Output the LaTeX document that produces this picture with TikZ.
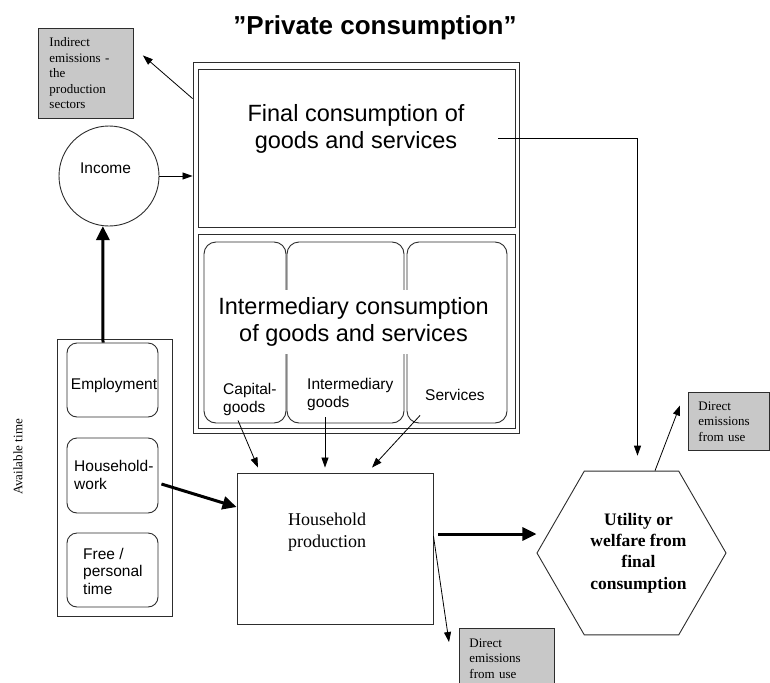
\documentclass[tikz,border=0pt]{standalone}
\usepackage{fontspec}
\setmainfont{Liberation Serif}
\setsansfont{Liberation Sans}
\usetikzlibrary{arrows.meta,shapes.geometric}
\definecolor{ln}{RGB}{45,45,45}
\definecolor{greyfill}{RGB}{200,200,200}
\newcommand\fsz[2]{\fontsize{#1}{#2}\selectfont}
\begin{document}
\begin{tikzpicture}[x=1pt,y=-1pt,
  box/.style={draw=ln, line width=0.9pt, rectangle, inner sep=0pt},
  rbox/.style={box, rounded corners=12pt},
  greybox/.style={draw=ln, line width=0.9pt, fill=greyfill, align=left, font=\fsz{13}{15.5}, inner xsep=11pt, inner ysep=0pt, anchor=north west},
  sans/.style={font=\sffamily\fsz{15.5}{17.5}, inner sep=0pt, align=left},
  bigsans/.style={font=\sffamily\fsz{23.5}{27}, align=center, inner sep=0pt},
  arr/.style={draw=black, line width=0.8pt, -{Triangle[length=10pt,width=7pt]}},
  thickarr/.style={draw=black, line width=3pt, -{Triangle[length=14pt,width=13pt]}},
]
\clip (0,0) rectangle (770,682);
\fill[white] (0,0) rectangle (770,682);

% title
\node[font=\sffamily\bfseries\fsz{26}{30}, anchor=base, inner sep=0pt] (title) at (375,35) {”Private consumption”};

% central frame
\node[box, minimum width=326pt, minimum height=371pt] (frame) at (356,247.5) {};
\node[box, minimum width=317pt, minimum height=158pt] (fc) at (356.5,148) {};
\node[box, minimum width=317pt, minimum height=194pt] (ic) at (356.5,331) {};
\node[bigsans] (fctext) at (356,128.8) {Final consumption of\\goods and services};

\node[rbox, minimum width=82pt, minimum height=181pt] (ib1) at (245,332.5) {};
\node[rbox, minimum width=117pt, minimum height=181pt] (ib2) at (345.5,332.5) {};
\node[rbox, minimum width=100pt, minimum height=181pt] (ib3) at (457,332.5) {};
\node[bigsans, fill=white, inner xsep=2pt, inner ysep=8pt] (ictext) at (353.5,322) {Intermediary consumption\\of goods and services};
\node[sans, anchor=west] (capl) at (223,399.5) {Capital-\\goods};
\node[sans, anchor=west] (intl) at (307,394.5) {Intermediary\\goods};
\node[sans, anchor=west] (servl) at (425,394.5) {Services};

% left column
\node[box, minimum width=115pt, minimum height=277pt] (avail) at (114.5,477.5) {};
\node[rbox, rounded corners=10pt, minimum width=91pt, minimum height=74pt] (emp) at (112.5,380) {};
\node[rbox, rounded corners=10pt, minimum width=91pt, minimum height=75pt] (hw) at (112.5,475.5) {};
\node[rbox, rounded corners=10pt, minimum width=91pt, minimum height=74pt] (free) at (112.5,570) {};
\node[sans] (emplabel) at (114,385.5) {Employment};
\node[sans, anchor=west] (hwlabel) at (74,475) {Household-\\work};
\node[sans, anchor=west] (freelabel) at (83,571) {Free /\\personal\\time};
\node[rotate=90, font=\fsz{13}{15}, inner sep=0pt] (availlabel) at (18,457) {Available time};

% income
\node[box, circle, minimum size=100pt] (income) at (109,176) {};
\node[sans] (incomelabel) at (105.5,168.5) {Income};

% grey boxes
\node[greybox, text width=73pt, minimum height=90pt] (g1) at (38,28) {Indirect\\emissions -\\the\\production\\sectors};
\node[greybox, inner xsep=10pt, text width=61pt, minimum height=58pt] (g2) at (688,392) {Direct\\emissions\\from use};
\node[greybox, inner xsep=10pt, inner ysep=10pt, text width=75pt] (g3) at (459,628) {Direct\\emissions\\from use};

% household production
\node[box, minimum width=196pt, minimum height=151pt] (hp) at (335,548.5) {};
\node[font=\fsz{18}{22}, align=left, inner sep=0pt, anchor=west] (hplabel) at (288,532) {Household\\production};

% hexagon
\node[draw=ln, line width=0.9pt, regular polygon, regular polygon sides=6, minimum size=189pt, inner sep=0pt] (hex) at (631.5,553) {};
\node[font=\bfseries\fsz{17.5}{21.3}, align=center, inner sep=0pt] (hexlabel) at (638.5,553) {Utility or\\welfare from\\final\\consumption};

% connectors
\draw[arr] ([yshift=-37pt]frame.north west) -- ([xshift=9pt,yshift=18pt]g1.east);
\draw[arr] (income.east) -- (income.east -| frame.west);
\draw[thickarr] ([xshift=-9.5pt]emp.north) -- (income.263);
\draw[arr] ([xshift=141.5pt,yshift=10pt]fc.center) -| ([xshift=6pt,yshift=15pt]hex.north);
\draw[arr] ([xshift=-7pt,yshift=3pt]ib1.south) -- ([xshift=-77pt,yshift=5pt]hp.north);
\draw[arr] ([xshift=-20.5pt,yshift=6pt]ib2.south) -- ([xshift=-10pt,yshift=5pt]hp.north);
\draw[arr] ([xshift=-37pt,yshift=8pt]ib3.south) -- ([xshift=37pt,yshift=5pt]hp.north);
\draw[thickarr] ([xshift=3pt,yshift=-8.5pt]hw.east) -- ([yshift=41.5pt]hp.west);
\draw[thickarr] ([xshift=5pt,yshift=14.5pt]hp.east) -- ([yshift=19pt]hex.west);
\draw[arr] ([xshift=23.5pt]hex.north) -- ([xshift=-8pt,yshift=16pt]g2.west);
\draw[arr] ([yshift=12.5pt]hp.east) -- ([xshift=-10pt,yshift=-14pt]g3.north west);
\end{tikzpicture}
\end{document}
